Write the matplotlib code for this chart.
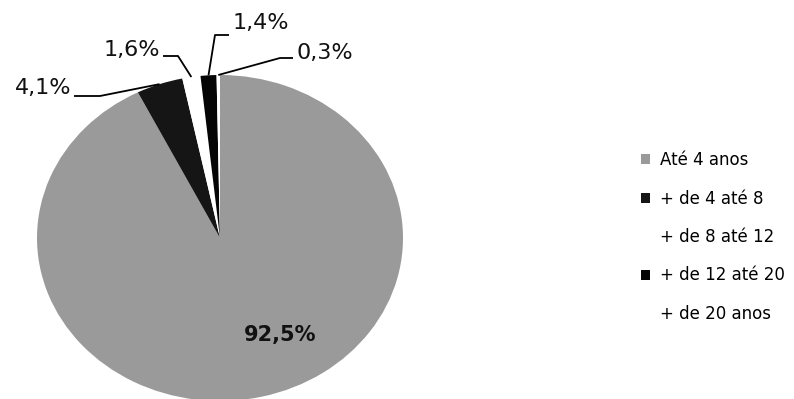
import numpy as np
import matplotlib
matplotlib.use("Agg")
import matplotlib.pyplot as plt

# Distribuição por faixa de tempo
faixas = ["Até 4 anos", "+ de 4 até 8", "+ de 8 até 12", "+ de 12 até 20", "+ de 20 anos"]
percentuais = [92.5, 4.1, 1.6, 1.4, 0.3]
rotulos = ["92,5%", "4,1%", "1,6%", "1,4%", "0,3%"]
cores = ["#9a9a9a", "#151515", "#ffffff", "#050505", "#ffffff"]

plt.rcParams["font.family"] = ["DejaVu Sans"]

fig = plt.figure(figsize=(7.94, 3.99), dpi=100)
W, H = 794, 399

# eixo da pizza (levemente achatada na vertical)
cx, cy, rx, ry = 220, 238, 183, 163
ax = fig.add_axes([(cx - rx) / W, (H - cy - ry) / H, 2 * rx / W, 2 * ry / H])
wedges, _ = ax.pie(percentuais, colors=cores, startangle=90, counterclock=False,
                   wedgeprops=dict(linewidth=0))
ax.set_aspect("auto")
ax.set_xlim(-1, 1)
ax.set_ylim(-1, 1)
ax.axis("off")


def px(x, y):
    # pixel da figura -> coordenada do eixo da pizza
    return (x - cx) / rx, (cy - y) / ry


def meio(w):
    a = np.deg2rad((w.theta1 + w.theta2) / 2)
    return np.cos(a), np.sin(a)


# rótulo interno da fatia maior
tx, ty = px(280, 335)
ax.text(tx, ty, rotulos[0], fontsize=15, fontweight="bold", color="#111111",
        ha="center", va="center")

# rótulos externos com linhas de chamada: (texto, alinhamento, cotovelo)
externos = {
    1: ((71, 88), "right", [(74, 96), (100, 96)]),
    2: ((160, 50), "right", [(163, 56), (178, 56)]),
    3: ((233, 23), "left", [(229, 35), (215, 35)]),
    4: ((297, 53), "left", [(293, 58), (280, 58)]),
}
for i, ((x0, y0), ha, cot) in externos.items():
    tx, ty = px(x0, y0)
    ax.text(tx, ty, rotulos[i], fontsize=16, ha=ha, va="center", color="#111111")
    pts = [px(*p) for p in cot] + [meio(wedges[i])]
    xs, ys = zip(*pts)
    linha, = ax.plot(xs, ys, color="black", lw=1.3, solid_capstyle="butt")
    linha.set_clip_on(False)

leg = fig.legend(wedges, faixas, loc="upper left",
                 bbox_to_anchor=(641 / W, (H - 151) / H),
                 frameon=False, fontsize=12, handlelength=0.55, handleheight=0.55,
                 handletextpad=0.6, labelspacing=1.23, borderpad=0, borderaxespad=0)

fig.savefig("out.png", dpi=100)
